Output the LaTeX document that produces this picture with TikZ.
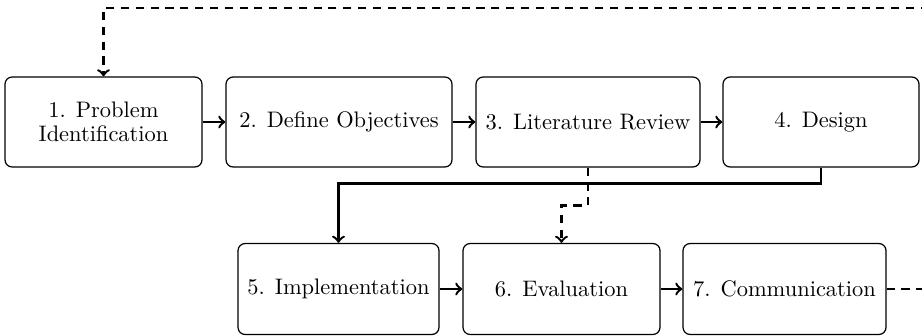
\documentclass[tikz,border=0pt]{standalone}
\usetikzlibrary{arrows}
\def\px{0.4456pt}
\tikzset{
  stepbox/.style={draw, line width=0.55pt, rounded corners=3.2pt, align=center, inner sep=0pt,
    minimum height=90*\px},
  flow/.style={line width=1.1pt, ->},
  feedback/.style={line width=1.1pt, dash pattern=on 3.6pt off 3pt, ->}
}
\begin{document}
\begin{tikzpicture}[x=0.4456pt, y=-0.4456pt]
  \useasboundingbox (0,0) rectangle (922,335);
  % upper row
  \node[stepbox, minimum width=197*\px] (probl)  at (103.5,122) {1. Problem\\[-1.3pt]Identification};
  \node[stepbox, minimum width=226*\px] (obj)    at (339,122)   {2. Define Objectives};
  \node[stepbox, minimum width=224*\px] (lit)    at (588,122)   {3. Literature Review};
  \node[stepbox, minimum width=196*\px] (design) at (821,122)   {4. Design};
  % lower row
  \node[stepbox, minimum width=201*\px, minimum height=91*\px] (impl) at (338.5,289) {5. Implementation};
  \node[stepbox, minimum width=197*\px, minimum height=91*\px] (eval) at (561.5,289) {6. Evaluation};
  \node[stepbox, minimum width=203*\px, minimum height=91*\px] (comm) at (784.5,289) {7. Communication};
  % main sequence
  \draw[flow] (probl) -- (obj);
  \draw[flow] (obj) -- (lit);
  \draw[flow] (lit) -- (design);
  \draw[flow] (design.south) -- ++(0,16) -| (impl.north);
  \draw[flow] (impl) -- (eval);
  \draw[flow] (eval) -- (comm);
  % dashed links
  \draw[feedback] (lit.south) -- ++(0,38) -| (eval.north);
  \coordinate (loop) at (945,8);
  \draw[feedback] (comm.east) -| (loop) -| (probl.north);
\end{tikzpicture}
\end{document}
